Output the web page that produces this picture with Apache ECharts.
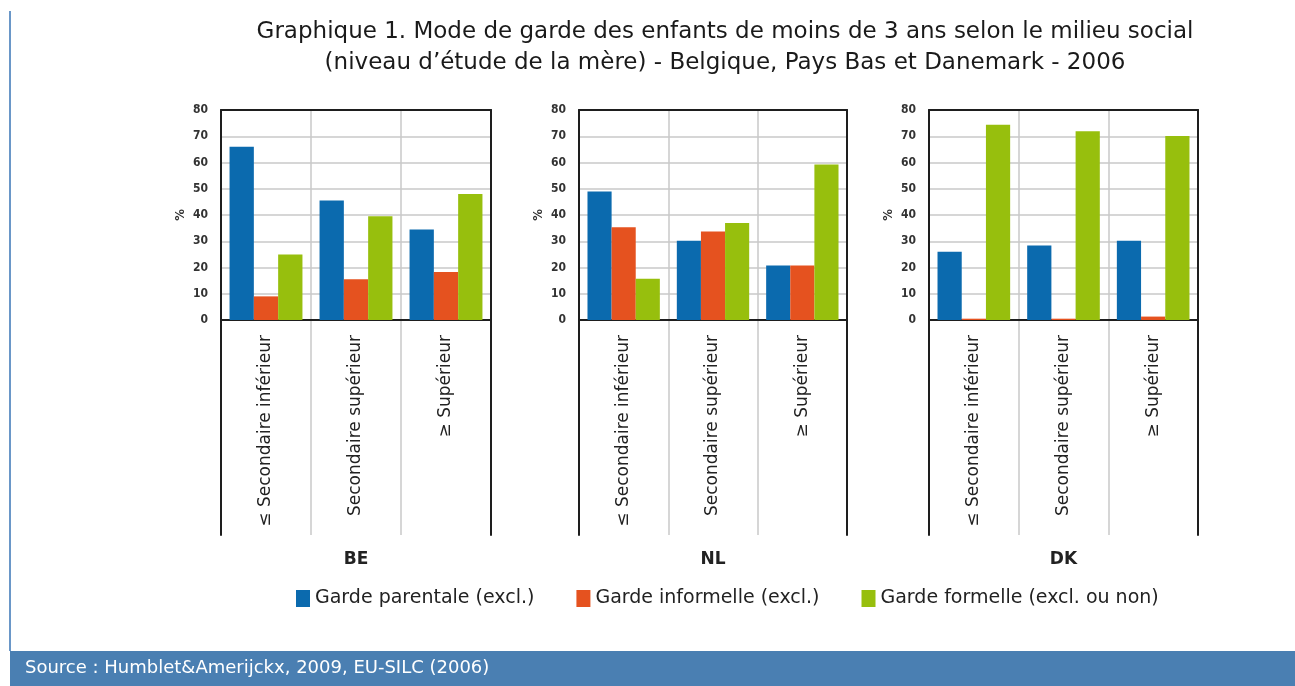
<!DOCTYPE html>
<html>
<head>
<meta charset="utf-8">
<style>
  html, body { margin: 0; padding: 0; background: #fff; }
  #chart { width: 1295px; height: 686px; }
</style>
<script src="https://cdn.jsdelivr.net/npm/echarts@6/dist/echarts.min.js"></script>
</head>
<body>
<div id="chart"></div>
<script>
(function () {
  "use strict";

  // Data (percent of children < 3 years).
  var CATEGORIES = ["≤ Secondaire inférieur", "Secondaire supérieur", "≥ Supérieur"];
  var COUNTRIES = ["BE", "NL", "DK"];
  var SERIES_NAMES = ["Garde parentale (excl.)", "Garde informelle (excl.)", "Garde formelle (excl. ou non)"];

  var BE_PARENTALE = [66, 45.5, 34.5];
  var BE_INFORMELLE = [9, 15.5, 18.3];
  var BE_FORMELLE = [25, 39.5, 48];

  var NL_PARENTALE = [49, 30.2, 20.8];
  var NL_INFORMELLE = [35.3, 33.7, 20.8];
  var NL_FORMELLE = [15.7, 37, 59.2];

  var DK_PARENTALE = [26, 28.4, 30.2];
  var DK_INFORMELLE = [0.5, 0.5, 1.3];
  var DK_FORMELLE = [74.4, 71.9, 70.1];

  var Y_TICKS = { min: 0, max: 80, interval: 10 };

  var VALUES = {
    BE: [BE_PARENTALE, BE_INFORMELLE, BE_FORMELLE],
    NL: [NL_PARENTALE, NL_INFORMELLE, NL_FORMELLE],
    DK: [DK_PARENTALE, DK_INFORMELLE, DK_FORMELLE]
  };

  var COLORS = ["#0b6aae", "#e5521f", "#97bf0d"];
  var BLACK = "#1e1e1e";
  var GRAY = "#c9c9c9";
  var FONT = "'DejaVu Sans', sans-serif";
  var NARROW = "'Liberation Sans Narrow', 'DejaVu Sans Condensed', sans-serif";

  // panel layout (px)
  var PANEL_LEFT = [221, 579, 929];
  var PANEL_WIDTH = [270, 268, 269];
  var PLOT_TOP = 110, PLOT_H = 210, FRAME_H = 215;

  var grids = [], xAxes = [], yAxes = [], series = [];

  COUNTRIES.forEach(function (code, p) {
    var gPlot = grids.length;
    grids.push({ left: PANEL_LEFT[p], top: PLOT_TOP, width: PANEL_WIDTH[p], height: PLOT_H });
    var gFrame = grids.length;
    grids.push({ left: PANEL_LEFT[p], top: PLOT_TOP + PLOT_H, width: PANEL_WIDTH[p], height: FRAME_H });

    // plot: bottom axis = zero line, vertical separators, rotated labels
    var xMain = xAxes.length;
    xAxes.push({
      type: "category", gridIndex: gPlot, position: "bottom", data: CATEGORIES, z: 1,
      axisLine: { show: true, onZero: false, lineStyle: { color: BLACK, width: 2 } },
      axisTick: { show: false },
      axisLabel: { interval: 0, rotate: 90, margin: 15, color: "#222", fontSize: 17, fontFamily: FONT },
      splitLine: { show: true, interval: 0, lineStyle: { color: GRAY, width: 1.5 } }
    });
    // plot: top border
    xAxes.push({
      type: "category", gridIndex: gPlot, position: "top", data: CATEGORIES, z: 3,
      axisLine: { show: true, onZero: false, lineStyle: { color: BLACK, width: 2 } },
      axisTick: { show: false }, axisLabel: { show: false }, splitLine: { show: false }
    });
    // frame under the plot: separators + country name
    xAxes.push({
      type: "category", gridIndex: gFrame, position: "bottom", data: CATEGORIES, z: 0,
      name: code, nameLocation: "middle", nameGap: 16,
      nameTextStyle: { fontSize: 17, fontWeight: "bold", color: "#222", fontFamily: FONT },
      axisLine: { show: false }, axisTick: { show: false }, axisLabel: { show: false },
      splitLine: { show: true, interval: 0, lineStyle: { color: GRAY, width: 1.5 } }
    });

    var yMain = yAxes.length;
    yAxes.push({
      type: "value", gridIndex: gPlot, position: "left", z: 3,
      min: Y_TICKS.min, max: Y_TICKS.max, interval: Y_TICKS.interval,
      name: "%", nameLocation: "middle", nameGap: 34,
      nameTextStyle: { fontSize: 13, fontWeight: "bold", color: "#333", fontFamily: NARROW },
      axisLine: { show: true, onZero: false, lineStyle: { color: BLACK, width: 2 } },
      axisTick: { show: false },
      axisLabel: { margin: 13, color: "#333", fontSize: 12, fontWeight: "bold", fontFamily: NARROW },
      splitLine: { show: false }
    });
    // horizontal gridlines, kept under everything
    yAxes.push({
      type: "value", gridIndex: gPlot, position: "left", z: 0,
      min: Y_TICKS.min, max: Y_TICKS.max, interval: Y_TICKS.interval,
      axisLine: { show: false }, axisTick: { show: false }, axisLabel: { show: false },
      splitLine: { show: true, lineStyle: { color: GRAY, width: 1.5 } }
    });
    yAxes.push({
      type: "value", gridIndex: gPlot, position: "right", z: 3,
      min: Y_TICKS.min, max: Y_TICKS.max,
      axisLine: { show: true, onZero: false, lineStyle: { color: BLACK, width: 2 } },
      axisTick: { show: false }, axisLabel: { show: false }, splitLine: { show: false }
    });
    ["left", "right"].forEach(function (pos) {
      yAxes.push({
        type: "value", gridIndex: gFrame, position: pos, z: 3, min: 0, max: 1,
        axisLine: { show: true, onZero: false, lineStyle: { color: BLACK, width: 2 } },
        axisTick: { show: false }, axisLabel: { show: false }, splitLine: { show: false }
      });
    });

    SERIES_NAMES.forEach(function (name, s) {
      series.push({
        name: name, type: "bar", xAxisIndex: xMain, yAxisIndex: yMain,
        barGap: "0%", barCategoryGap: "19%",
        itemStyle: { color: COLORS[s] },
        data: VALUES[code][s]
      });
    });
  });

  var chart = echarts.init(document.getElementById("chart"), null, { renderer: "canvas" });

  chart.setOption({
    animation: false,
    textStyle: { fontFamily: FONT },
    grid: grids,
    xAxis: xAxes,
    yAxis: yAxes,
    legend: {
      data: SERIES_NAMES, left: 296, top: 589, padding: 0,
      itemWidth: 14, itemHeight: 17, itemGap: 42, icon: "rect",
      textStyle: { fontSize: 19, color: "#222", fontFamily: FONT }
    },
    graphic: [
      { type: "rect", left: 9, top: 11, shape: { width: 2, height: 640 }, style: { fill: "#6a97c8" } },
      {
        type: "text", x: 725, y: 48,
        style: {
          text: "Graphique 1. Mode de garde des enfants de moins de 3 ans selon le milieu social\n(niveau d’étude de la mère) - Belgique, Pays Bas et Danemark - 2006",
          align: "center", verticalAlign: "middle", lineHeight: 31,
          font: "23px " + FONT, fill: "#1a1a1a"
        }
      },
      { type: "rect", left: 10, top: 651, shape: { width: 1285, height: 35 }, style: { fill: "#4a7fb2" } },
      {
        type: "text", x: 25, y: 668,
        style: {
          text: "Source : Humblet&Amerijckx, 2009, EU-SILC (2006)",
          verticalAlign: "middle", font: "18px " + FONT, fill: "#ffffff"
        }
      }
    ],
    series: series
  });

  window.addEventListener("resize", function () { chart.resize(); });
})();
</script>
</body>
</html>
